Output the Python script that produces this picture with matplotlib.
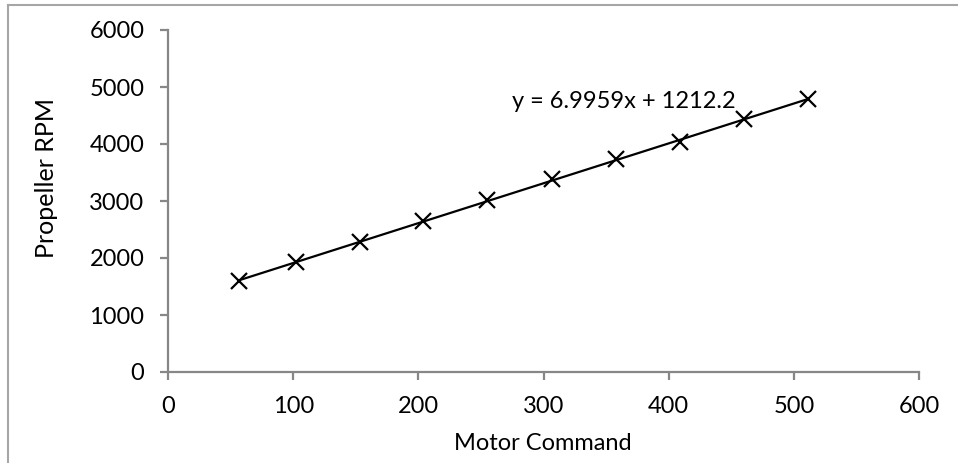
#!/usr/bin/env python3
"""
Propeller RPM vs motor command, with linear trendline
"""
import numpy as np
import matplotlib
matplotlib.use("Agg")
import matplotlib.pyplot as plt
from matplotlib.lines import Line2D

# Data
motor_cmd = [57, 102, 153, 204, 255, 307, 358, 409, 460, 511]
prop_rpm = [1600, 1925, 2286, 2650, 3018, 3386, 3745, 4041, 4437, 4788]
slope, intercept = 6.9959, 1212.2
x_ticks = [0, 100, 200, 300, 400, 500, 600]
y_ticks = [0, 1000, 2000, 3000, 4000, 5000, 6000]

plt.rcParams['font.family'] = ['Lato', 'DejaVu Sans']
W, H = 958, 463
fig = plt.figure(figsize=(W / 100, H / 100), dpi=100)
ax = fig.add_axes([168 / W, 1 - 372 / H, (919 - 168) / W, (372 - 30) / H])

# Trendline over the data range
xs = np.array([min(motor_cmd), max(motor_cmd)])
ax.plot(xs, slope * xs + intercept, color='black', lw=1.6, zorder=2)
ax.plot(motor_cmd, prop_rpm, ls='none', marker='x', ms=11, mew=1.6,
        color='black', zorder=3)

ax.set_xlim(0, 600)
ax.set_ylim(0, 6000)
ax.set_xticks(x_ticks)
ax.set_yticks(y_ticks)
for side in ['top', 'right']:
    ax.spines[side].set_visible(False)
for side in ['left', 'bottom']:
    ax.spines[side].set_color('#878787')
    ax.spines[side].set_linewidth(1.6)
ax.tick_params(direction='out', length=6, width=1.6, color='#878787',
               labelsize=17, pad=11)

ax.text(0.458, 0.79, 'y = 6.9959x + 1212.2', transform=ax.transAxes,
        fontsize=17, ha='left', va='center')

fig.text(47 / W, 1 - 178 / H, 'Propeller RPM', rotation=90, fontsize=18,
         ha='center', va='center')
fig.text(543 / W, 1 - 443 / H, 'Motor Command', fontsize=17,
         ha='center', va='center')

# Outer chart frame (left and top edges visible)
frame_col = '#a6a6a6'
fig.add_artist(Line2D([7.5 / W, 7.5 / W], [0, 1 - 5 / H], color=frame_col,
                      lw=1.5, transform=fig.transFigure))
fig.add_artist(Line2D([7.5 / W, 1], [1 - 5 / H, 1 - 5 / H], color=frame_col,
                      lw=1.5, transform=fig.transFigure))

fig.savefig('out.png', dpi=100)
